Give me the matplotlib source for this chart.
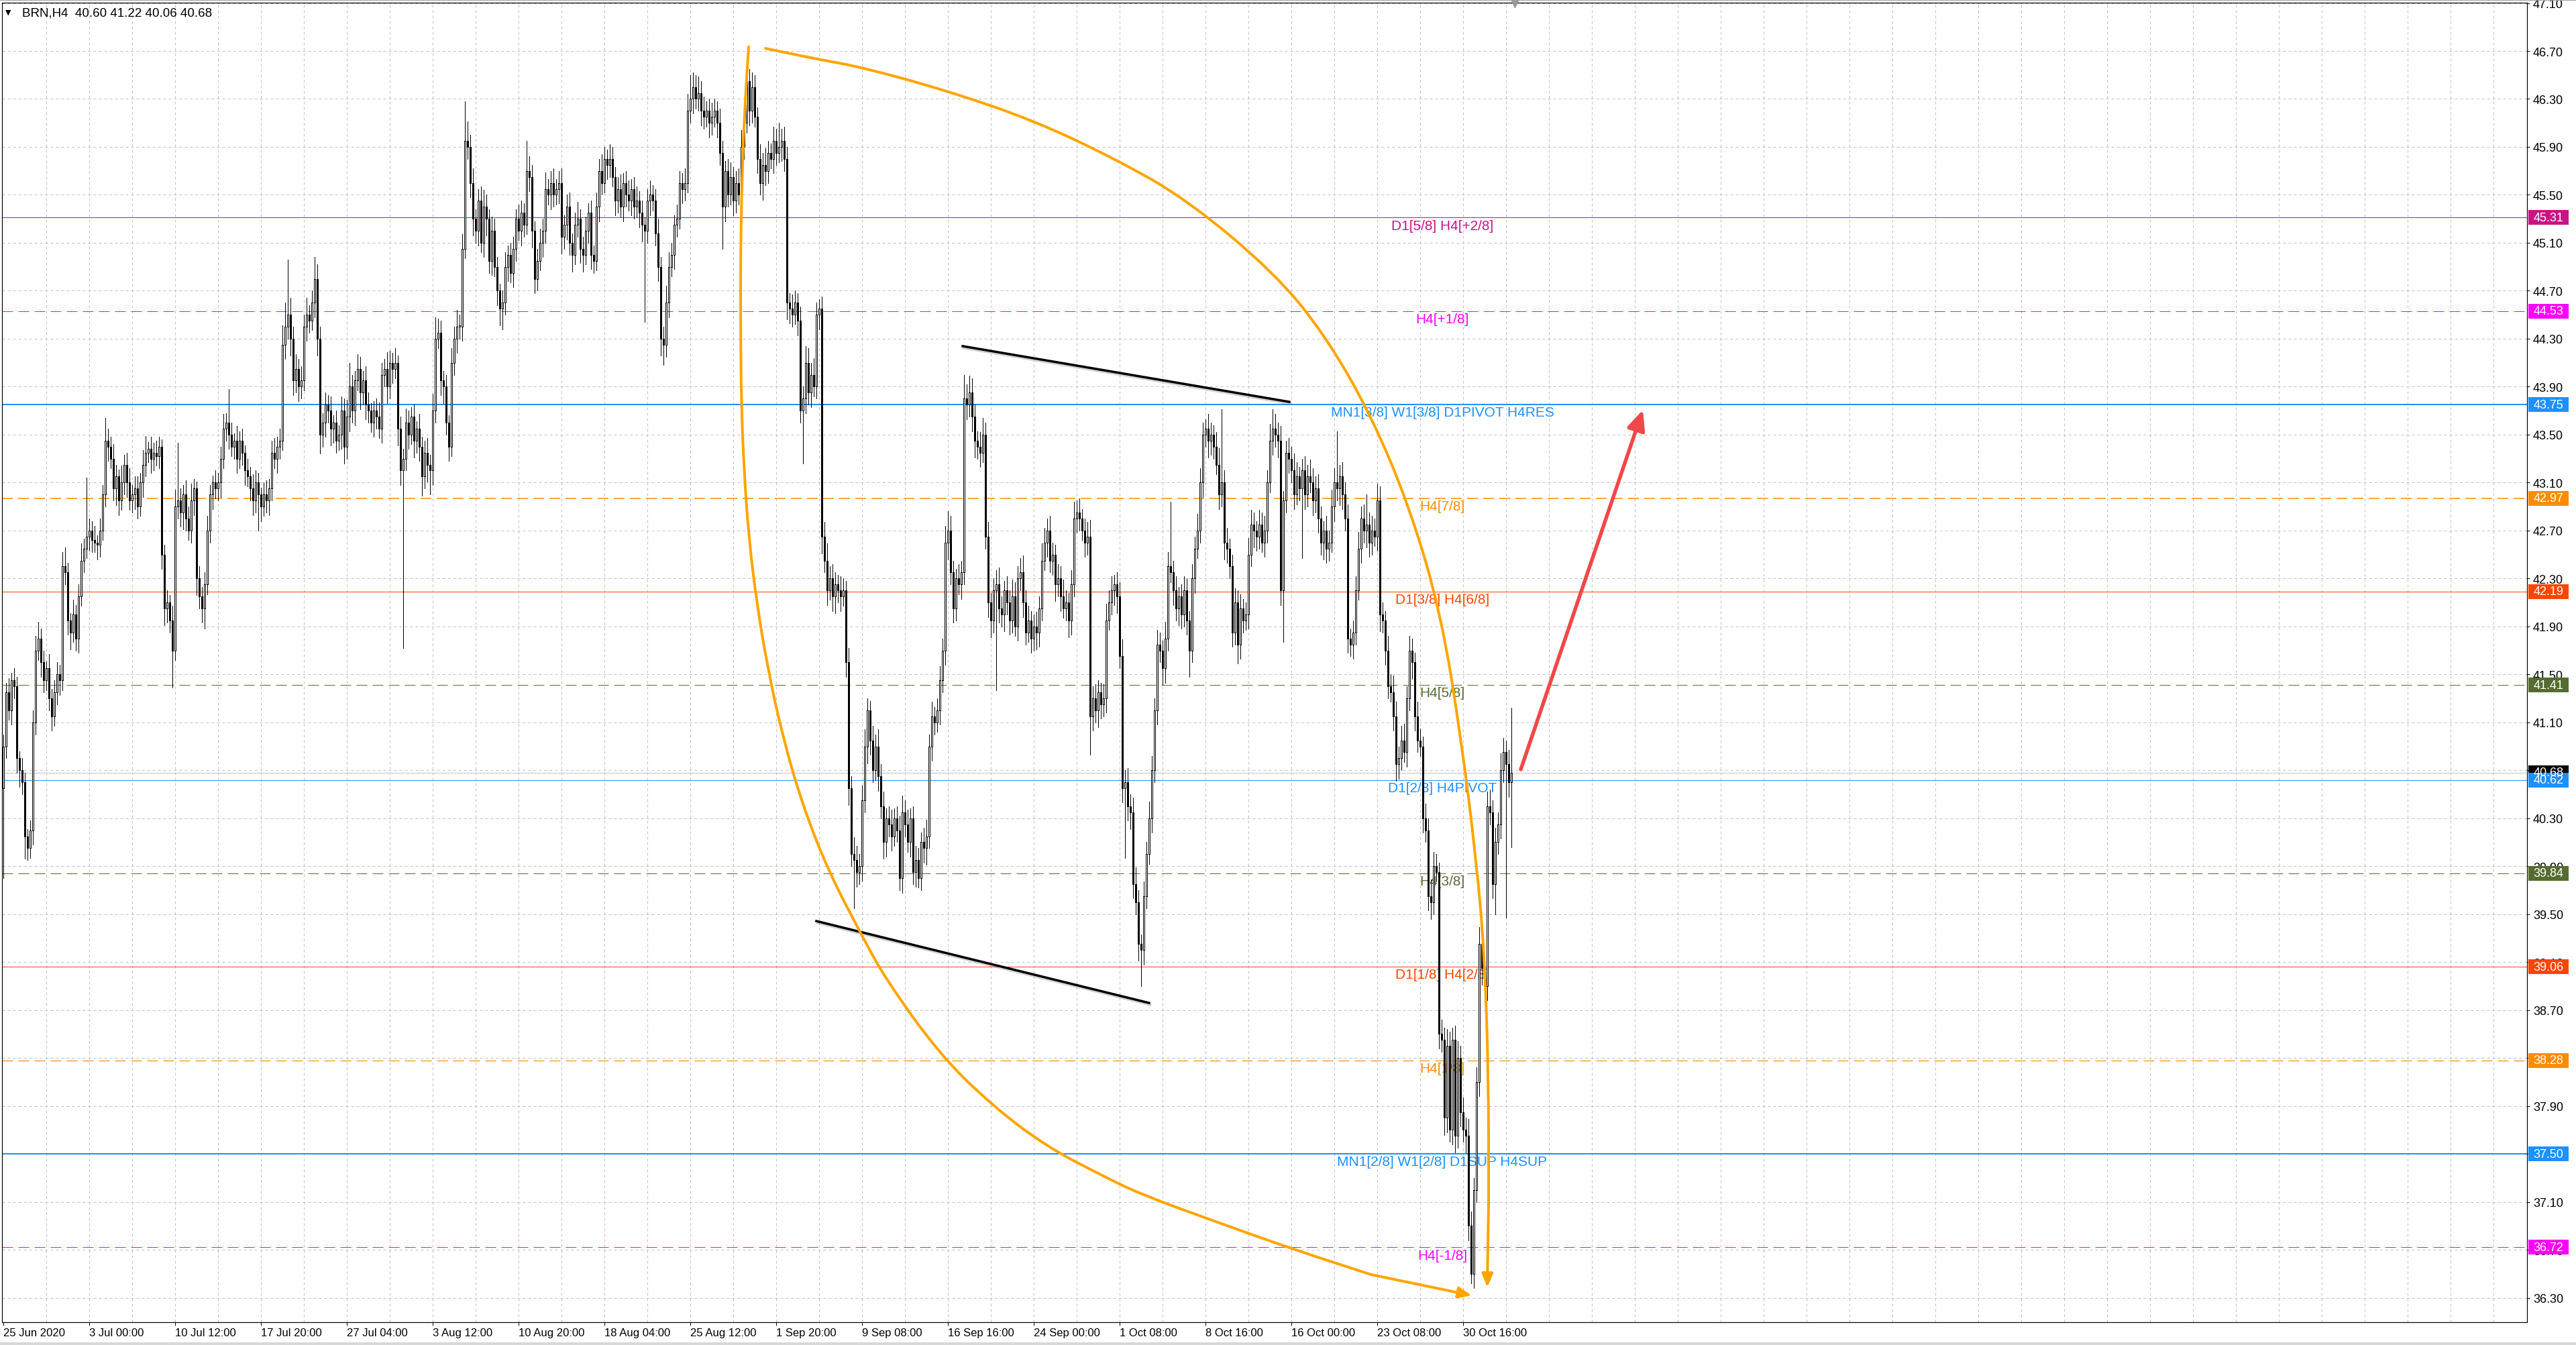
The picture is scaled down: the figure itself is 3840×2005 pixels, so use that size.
import numpy as np
import matplotlib
matplotlib.use('Agg')
import matplotlib.pyplot as plt
from matplotlib.patches import Rectangle, PathPatch
from matplotlib.path import Path
from matplotlib.transforms import blended_transform_factory
import matplotlib.patheffects as pe

plt.rcParams['font.family'] = ['Liberation Sans', 'DejaVu Sans']

# ---- data: BRN H4 closes ----
first_open = 40.55
closes = [
    40.90, 41.35, 41.20, 41.45, 41.40, 40.80, 40.70, 40.60, 40.15, 40.05,
    40.20, 41.10, 41.70, 41.80, 41.60, 41.45, 41.55, 41.30, 41.15, 41.35,
    41.50, 41.45, 42.40, 42.35, 41.95, 41.85, 42.00, 41.80, 42.15, 42.45,
    42.55, 42.65, 42.70, 42.62, 42.60, 42.58, 42.70, 43.00, 43.45, 43.40,
    43.30, 43.05, 43.15, 42.95, 43.10, 43.25, 43.10, 42.95, 43.00, 43.05,
    42.90, 43.10, 43.25, 43.35, 43.38, 43.30, 43.35, 43.32, 43.40, 42.50,
    42.05, 42.10, 41.95, 41.70, 42.90, 42.95, 42.85, 43.00, 42.80, 42.70,
    42.95, 43.05, 42.30, 42.15, 42.05, 42.25, 42.70, 43.00, 43.10, 43.05,
    43.10, 43.30, 43.55, 43.60, 43.50, 43.40, 43.45, 43.30, 43.45, 43.35,
    43.20, 43.15, 43.05, 42.95, 43.10, 43.00, 42.90, 43.00, 42.95, 43.05,
    43.35, 43.30, 43.40, 43.45, 44.25, 44.40, 44.50, 44.30, 43.95, 44.05,
    43.90, 43.95, 44.40, 44.50, 44.45, 44.60, 44.80, 44.30, 43.50, 43.60,
    43.75, 43.70, 43.55, 43.60, 43.45, 43.50, 43.70, 43.40, 43.65, 43.90,
    43.70, 43.95, 44.05, 43.85, 43.95, 43.75, 43.70, 43.60, 43.70, 43.65,
    43.55, 44.00, 44.05, 43.90, 44.10, 44.05, 44.10, 43.55, 43.20, 43.30,
    43.60, 43.50, 43.65, 43.45, 43.55, 43.40, 43.15, 43.35, 43.25, 43.20,
    43.70, 44.30, 44.35, 43.95, 43.90, 43.60, 43.40, 44.10, 44.30, 44.40,
    44.40, 45.05, 45.95, 45.90, 45.60, 45.30, 45.20, 45.45, 45.10, 45.40,
    45.30, 44.95, 45.20, 44.90, 44.70, 44.55, 44.60, 44.90, 45.00, 44.85,
    45.05, 45.30, 45.20, 45.35, 45.25, 45.70, 45.65, 45.20, 44.80, 44.95,
    45.10, 45.20, 45.55, 45.50, 45.60, 45.50, 45.55, 45.60, 45.15, 45.25,
    45.40, 45.10, 45.00, 45.25, 45.30, 45.05, 45.00, 45.20, 45.35, 45.00,
    44.95, 45.40, 45.70, 45.60, 45.80, 45.75, 45.80, 45.65, 45.45, 45.55,
    45.40, 45.60, 45.50, 45.45, 45.55, 45.40, 45.45, 45.35, 45.25, 45.20,
    45.45, 45.50, 45.45, 45.18, 44.90, 44.30, 44.25, 44.60, 44.90, 45.00,
    45.25, 45.30, 45.60, 45.55, 45.60, 46.20, 46.30, 46.40, 46.30, 46.35,
    46.20, 46.15, 46.20, 46.10, 46.15, 46.20, 46.10, 45.85, 45.40, 45.70,
    45.50, 45.65, 45.45, 45.60, 45.50, 45.90, 46.10, 46.45, 46.20, 46.40,
    46.15, 45.80, 45.60, 45.75, 45.70, 45.85, 45.80, 45.95, 45.85, 45.90,
    45.95, 45.80, 44.60, 44.55, 44.50, 44.60, 44.45, 43.70, 43.80, 44.10,
    43.85, 44.00, 43.90, 44.50, 44.55, 42.65, 42.45, 42.20, 42.30, 42.15,
    42.25, 42.20, 42.15, 42.20, 41.60, 40.55, 40.00, 39.95, 39.85, 39.90,
    40.45, 40.90, 41.20, 40.95, 40.70, 40.90, 40.65, 40.40, 40.10, 40.30,
    40.25, 40.15, 40.30, 40.20, 39.80, 40.35, 40.25, 40.10, 40.30, 39.85,
    39.95, 39.80, 40.10, 40.05, 40.15, 40.90, 41.15, 41.10, 41.20, 41.45,
    41.70, 42.60, 42.70, 42.35, 42.05, 42.30, 42.25, 42.35, 43.80, 43.75,
    43.85, 43.65, 43.45, 43.40, 43.35, 43.50, 42.65, 42.10, 41.95, 42.20,
    42.25, 42.05, 42.00, 42.20, 42.10, 41.95, 42.15, 41.90, 42.30, 42.35,
    42.10, 41.85, 41.95, 41.80, 41.90, 41.85, 42.05, 42.45, 42.60, 42.70,
    42.45, 42.50, 42.25, 42.30, 42.15, 42.05, 42.10, 41.95, 42.25, 42.80,
    42.85, 42.80, 42.70, 42.60, 42.65, 41.15, 41.30, 41.20, 41.35, 41.25,
    41.30, 41.95, 42.10, 42.20, 42.25, 42.15, 41.65, 40.55, 40.60, 40.40,
    40.35, 39.75, 39.60, 39.25, 39.20, 39.65, 40.00, 40.30, 40.70, 41.20,
    41.75, 41.70, 41.55, 41.80, 42.40, 42.35, 42.20, 42.05, 42.15, 42.00,
    42.20, 41.95, 41.70, 42.30, 42.55, 42.70, 43.10, 43.50, 43.55, 43.45,
    43.50, 43.40, 43.25, 43.00, 43.10, 42.60, 42.55, 42.40, 41.85, 42.10,
    41.75, 42.05, 41.95, 42.00, 42.50, 42.75, 42.70, 42.65, 42.75, 42.60,
    42.70, 43.10, 43.45, 43.55, 43.50, 43.45, 42.20, 42.95, 43.35, 43.30,
    43.20, 43.00, 43.15, 43.05, 43.20, 43.00, 43.15, 43.10, 42.95, 43.05,
    42.80, 42.60, 42.70, 42.55, 42.60, 42.90, 43.10, 43.05, 43.15, 43.00,
    42.80, 41.80, 41.75, 41.85, 42.20, 42.55, 42.80, 42.70, 42.75, 42.60,
    42.70, 42.65, 42.95, 42.00, 41.95, 41.70, 41.40, 41.35, 41.15, 40.75,
    40.80, 40.95, 40.85, 41.30, 41.70, 41.60, 41.15, 40.95, 40.90, 40.30,
    40.20, 39.65, 39.60, 39.90, 39.85, 38.50, 38.45, 37.80, 38.40, 37.70,
    38.45, 37.65, 38.30, 37.85, 37.70, 37.65, 36.90, 36.50, 37.20, 38.10,
    39.25, 39.05, 38.90, 40.40, 40.35, 39.75, 40.10, 40.25, 40.70, 40.85,
    40.75, 40.60, 40.68,
]
# upper / lower wick beyond the body, in cents
up_wick = [
    10, 8, 12, 6, 10, 8, 6, 10, 8, 6,
    8, 10, 12, 14, 8, 10, 6, 12, 8, 10,
    10, 8, 12, 16, 8, 6, 12, 8, 10, 14,
    8, 49, 10, 8, 12, 6, 10, 8, 19, 10,
    8, 12, 10, 6, 14, 8, 10, 12, 8, 10,
    10, 8, 12, 14, 6, 10, 8, 10, 8, 6,
    8, 10, 6, 12, 14, 48, 10, 8, 12, 10,
    14, 8, 6, 10, 8, 10, 12, 8, 6, 10,
    8, 10, 12, 8, 28, 10, 6, 12, 8, 10,
    6, 10, 8, 12, 10, 8, 6, 10, 12, 8,
    10, 12, 8, 10, 16, 20, 46, 14, 10, 12,
    8, 12, 10, 14, 8, 10, 18, 12, 10, 8,
    10, 8, 12, 6, 10, 8, 12, 10, 14, 20,
    10, 8, 12, 10, 8, 12, 10, 6, 8, 10,
    12, 10, 8, 14, 10, 8, 12, 6, 10, 8,
    12, 10, 8, 10, 6, 12, 8, 10, 12, 8,
    14, 18, 12, 10, 8, 10, 6, 12, 10, 14,
    10, 12, 33, 16, 10, 12, 8, 10, 12, 14,
    10, 8, 12, 10, 8, 6, 10, 12, 8, 10,
    10, 8, 12, 10, 8, 25, 12, 10, 8, 10,
    12, 10, 14, 8, 10, 12, 8, 10, 12, 8,
    10, 12, 8, 10, 14, 8, 10, 12, 8, 10,
    8, 12, 10, 14, 10, 8, 12, 10, 8, 10,
    12, 8, 10, 12, 8, 10, 12, 8, 10, 6,
    10, 12, 8, 10, 12, 8, 10, 14, 12, 10,
    8, 12, 10, 8, 12, 14, 20, 12, 10, 14,
    10, 12, 8, 10, 12, 10, 8, 12, 10, 8,
    10, 12, 8, 10, 12, 14, 12, 7, 10, 12,
    10, 8, 12, 10, 14, 10, 8, 12, 10, 20,
    10, 12, 10, 8, 12, 10, 8, 12, 10, 14,
    12, 10, 14, 10, 8, 10, 12, 14, 10, 12,
    10, 8, 12, 10, 8, 12, 10, 14, 12, 10,
    12, 14, 10, 8, 12, 10, 14, 10, 12, 8,
    10, 12, 8, 10, 12, 14, 10, 12, 8, 10,
    12, 10, 8, 12, 14, 10, 12, 8, 10, 12,
    10, 14, 16, 12, 10, 8, 12, 10, 20, 12,
    14, 12, 10, 8, 12, 14, 10, 12, 8, 10,
    12, 14, 10, 8, 12, 10, 14, 12, 10, 12,
    14, 10, 12, 8, 10, 12, 10, 14, 12, 10,
    12, 10, 8, 12, 10, 14, 10, 8, 12, 14,
    10, 12, 8, 10, 12, 14, 10, 12, 10, 8,
    12, 14, 10, 12, 8, 10, 12, 14, 10, 12,
    10, 12, 14, 10, 8, 12, 10, 14, 12, 10,
    12, 10, 8, 14, 12, 54, 10, 12, 8, 10,
    12, 10, 8, 12, 10, 14, 12, 10, 8, 12,
    10, 8, 12, 14, 61, 10, 12, 8, 10, 12,
    10, 12, 8, 10, 14, 12, 10, 8, 12, 10,
    12, 10, 14, 16, 12, 10, 12, 8, 10, 12,
    10, 14, 12, 8, 10, 12, 10, 14, 12, 10,
    12, 10, 8, 12, 10, 14, 12, 43, 10, 12,
    10, 12, 8, 10, 12, 14, 10, 12, 25, 10,
    12, 10, 14, 12, 10, 8, 12, 10, 14, 12,
    10, 12, 14, 10, 12, 10, 8, 12, 10, 8,
    12, 10, 14, 12, 10, 8, 12, 10, 14, 12,
    10, 12, 14, 10, 12, 10, 14, 12, 10, 12,
    14, 12, 10, 12, 14, 10, 12, 10, 14, 12,
    10, 12, 54,
]
dn_wick = [
    75, 10, 8, 12, 10, 12, 14, 10, 19, 10,
    8, 12, 10, 8, 12, 10, 8, 10, 12, 8,
    10, 12, 8, 10, 12, 14, 8, 10, 12, 8,
    10, 8, 12, 10, 8, 12, 10, 8, 10, 12,
    8, 10, 14, 12, 8, 10, 12, 8, 10, 12,
    10, 8, 12, 10, 8, 12, 10, 8, 10, 12,
    14, 12, 10, 31, 8, 10, 12, 14, 10, 8,
    10, 12, 14, 10, 12, 17, 8, 10, 12, 8,
    10, 12, 8, 10, 12, 8, 10, 12, 8, 10,
    12, 8, 10, 12, 10, 30, 12, 8, 10, 12,
    10, 8, 12, 10, 8, 12, 10, 14, 12, 10,
    12, 10, 8, 12, 10, 8, 12, 14, 16, 10,
    12, 10, 14, 12, 10, 8, 12, 14, 10, 12,
    10, 12, 8, 14, 10, 12, 10, 8, 12, 10,
    8, 12, 10, 14, 10, 12, 8, 14, 12, 148,
    10, 12, 8, 14, 10, 12, 16, 10, 14, 20,
    12, 10, 8, 12, 14, 10, 12, 8, 10, 12,
    10, 12, 8, 10, 12, 14, 10, 12, 8, 12,
    14, 10, 12, 8, 12, 14, 17, 10, 12, 8,
    12, 10, 8, 12, 10, 8, 12, 14, 12, 10,
    8, 12, 10, 8, 12, 10, 8, 12, 14, 10,
    12, 10, 14, 8, 10, 12, 14, 8, 10, 12,
    10, 8, 12, 10, 8, 12, 10, 8, 12, 10,
    8, 12, 10, 8, 12, 10, 8, 12, 14, 76,
    10, 12, 8, 10, 12, 14, 17, 10, 12, 8,
    12, 10, 8, 12, 10, 8, 10, 12, 8, 10,
    12, 10, 8, 12, 10, 8, 12, 10, 35, 12,
    10, 8, 12, 10, 8, 12, 10, 8, 12, 10,
    8, 12, 10, 14, 12, 10, 8, 12, 10, 8,
    12, 10, 14, 12, 10, 8, 12, 10, 44, 12,
    10, 12, 8, 10, 12, 14, 10, 12, 8, 12,
    14, 10, 12, 8, 12, 14, 10, 40, 12, 10,
    12, 10, 14, 12, 10, 8, 12, 10, 14, 12,
    10, 12, 8, 10, 10, 12, 10, 8, 12, 10,
    12, 8, 10, 12, 14, 10, 12, 10, 8, 12,
    10, 12, 14, 10, 12, 10, 8, 12, 10, 12,
    10, 12, 14, 10, 12, 8, 10, 12, 14, 10,
    83, 12, 10, 14, 10, 12, 10, 8, 12, 10,
    12, 10, 8, 12, 10, 14, 12, 10, 8, 12,
    10, 12, 14, 10, 12, 8, 10, 14, 12, 10,
    12, 10, 8, 12, 10, 32, 12, 10, 14, 12,
    10, 12, 8, 10, 12, 14, 10, 12, 58, 12,
    14, 12, 10, 14, 30, 12, 10, 8, 12, 10,
    12, 10, 14, 12, 10, 8, 12, 10, 14, 12,
    10, 12, 22, 10, 12, 8, 10, 12, 10, 14,
    12, 10, 8, 12, 10, 14, 12, 10, 12, 10,
    16, 12, 10, 8, 12, 10, 14, 12, 10, 8,
    12, 10, 8, 12, 10, 14, 12, 43, 10, 12,
    10, 12, 8, 10, 58, 12, 10, 8, 12, 10,
    12, 10, 14, 12, 10, 8, 12, 10, 14, 12,
    10, 12, 10, 12, 10, 8, 12, 10, 14, 12,
    10, 8, 12, 14, 10, 12, 10, 8, 12, 14,
    12, 10, 8, 12, 10, 14, 12, 10, 8, 12,
    10, 12, 14, 10, 8, 12, 10, 14, 12, 10,
    12, 14, 10, 12, 10, 14, 12, 8, 12, 10,
    12, 14, 10, 12, 10, 12, 25, 10, 12, 10,
    128, 12, 54,
]

date_labels = ['25 Jun 2020', '3 Jul 00:00', '10 Jul 12:00', '17 Jul 20:00',
               '27 Jul 04:00', '3 Aug 12:00', '10 Aug 20:00', '18 Aug 04:00',
               '25 Aug 12:00', '1 Sep 20:00', '9 Sep 08:00', '16 Sep 16:00',
               '24 Sep 00:00', '1 Oct 08:00', '8 Oct 16:00', '16 Oct 00:00',
               '23 Oct 08:00', '30 Oct 16:00']

# Murrey-math / pivot levels
levels = [45.31, 44.53, 43.75, 42.97, 42.19, 41.41, 40.62, 39.84, 39.06, 38.28, 37.50, 36.72]
level_names = ['D1[5/8] H4[+2/8]', 'H4[+1/8]', 'MN1[3/8] W1[3/8] D1PIVOT H4RES', 'H4[7/8]',
               'D1[3/8] H4[6/8]', 'H4[5/8]', 'D1[2/8] H4PIVOT', 'H4[3/8]',
               'D1[1/8] H4[2/8]', 'H4[1/8]', 'MN1[2/8] W1[2/8] D1SUP H4SUP', 'H4[-1/8]']
level_colors = ['#C71585', '#FF00FF', '#1E90FF', '#FF8C00', '#FF4500', '#556B2F',
                '#1E90FF', '#556B2F', '#FF4500', '#FF8C00', '#1E90FF', '#FF00FF']
level_dashed = [False, True, False, True, False, True, False, True, False, True, False, True]
level_px = [1, 1, 2, 1.5, 1, 1, 1, 1, 1, 1.2, 2, 1]
bid = 40.68

# drawn objects (bar index, price)
arc_a_bar = [277.75, 276.25, 275.25, 274.75, 274.75, 275.0, 276.0, 277.75, 280.75, 285.0,
             290.5, 297.75, 307.5, 320.5, 328.75, 348.75, 368.75, 388.75, 408.75, 423.75,
             452.5, 481.25, 509.75, 547.25]
arc_a_price = [46.736, 46.208, 45.620, 45.004, 44.445, 43.773, 43.214, 42.654, 42.095, 41.535,
               40.975, 40.416, 39.856, 39.297, 38.961, 38.334, 37.898, 37.562, 37.327, 37.164,
               36.929, 36.700, 36.493, 36.319]
arc_b_bar = [284.0, 303.75, 319.75, 351.5, 384.0, 414.75, 441.25, 473.75, 492.5, 509.75,
             524.25, 535.75, 543.25, 549.0, 552.0, 553.5, 553.5, 553.0]
arc_b_price = [46.722, 46.630, 46.566, 46.370, 46.121, 45.796, 45.458, 44.848, 44.333, 43.661,
               42.884, 42.005, 40.970, 39.935, 39.157, 38.121, 37.086, 36.387]
top_line = [(357.5, 44.238), (479.25, 43.773)]
bottom_line = [(303.0, 39.442), (427.0, 38.759)]
red_arrow = [(565.5, 40.707), (611.0, 43.706)]

# ---- build OHLC ----
c = np.array(closes)
o = np.r_[first_open, c[:-1]]
h = np.maximum(o, c) + np.array(up_wick) / 100
l = np.minimum(o, c) - np.array(dn_wick) / 100
x = np.arange(len(c))

W, H = 3840, 2006
PT = 0.72  # points per pixel at dpi 100
fig = plt.figure(figsize=(W / 100, H / 100), dpi=100)
ax = fig.add_axes([3 / W, 34 / H, 3764 / W, 1967 / H])
ymin, ymax = 36.096, 47.103
ax.set_xlim(-0.5, 940.5)
ax.set_ylim(ymin, ymax)
ax.set_autoscale_on(False)

# grid
price_ticks = [round(36.30 + 0.4 * k, 2) for k in range(28)]
for p in price_ticks:
    ax.axhline(p, color='#C0C0C0', lw=PT, ls=(0, (4, 4)), zorder=1)
for b in range(16, 941, 16):
    ax.axvline(b, color='#C0C0C0', lw=PT, ls=(0, (4, 4)), zorder=1)

# levels + labels
label_bar = 536.25
for lv, nm, col, dsh, wpx in zip(levels, level_names, level_colors, level_dashed, level_px):
    ls = (0, (16 / wpx, 8 / wpx)) if dsh else '-'
    ax.axhline(lv, color=col, lw=wpx * PT, ls=ls, zorder=2)
    ax.annotate(nm, xy=(label_bar, lv), xytext=(0, -1.5), textcoords='offset points',
                ha='center', va='top', color=col, fontsize=15, zorder=3)
ax.axhline(bid, color='#C0C0C0', lw=PT, zorder=2)

# candles
ax.vlines(x, l, h, color='black', lw=PT, zorder=4, antialiased=False)
bull = c >= o
body = np.maximum(np.abs(c - o), 0.012)
ax.bar(x[bull], body[bull], bottom=o[bull], width=0.7, facecolor='white',
       edgecolor='black', linewidth=PT, zorder=5, antialiased=False)
ax.bar(x[~bull], body[~bull], bottom=c[~bull], width=0.7, facecolor='black',
       edgecolor='black', linewidth=PT, zorder=5, antialiased=False)

# trend lines
shadow = [pe.SimpleLineShadow(offset=(1, -2), shadow_color='gray', alpha=0.35), pe.Normal()]
for seg in (top_line, bottom_line):
    ax.plot([seg[0][0], seg[1][0]], [seg[0][1], seg[1][1]], color='black', lw=3.5 * PT,
            zorder=6, path_effects=shadow)


def smooth_path(xs, ys):
    # quadratic pieces through the midpoints, read points act as control points
    pts = list(zip(xs, ys))
    verts = [pts[0], ((pts[0][0] + pts[1][0]) / 2, (pts[0][1] + pts[1][1]) / 2)]
    codes = [Path.MOVETO, Path.LINETO]
    for i in range(1, len(pts) - 1):
        mid = ((pts[i][0] + pts[i + 1][0]) / 2, (pts[i][1] + pts[i + 1][1]) / 2)
        verts += [pts[i], mid]
        codes += [Path.CURVE3, Path.CURVE3]
    verts.append(pts[-1])
    codes.append(Path.LINETO)
    return Path(verts, codes)


# orange curved arrows
orange = '#FFA500'
for xs, ys in ((arc_a_bar, arc_a_price), (arc_b_bar, arc_b_price)):
    ax.add_patch(PathPatch(smooth_path(xs[:-1], ys[:-1]), fill=False, edgecolor=orange,
                           lw=4 * PT, zorder=6, joinstyle='round', capstyle='round'))
    ax.annotate('', xy=(xs[-1], ys[-1]), xytext=(xs[-2], ys[-2]),
                arrowprops=dict(arrowstyle='-|>,head_length=0.6,head_width=0.25', color=orange,
                                lw=4 * PT, mutation_scale=20, shrinkA=0, shrinkB=0), zorder=6)

# red arrow
ax.annotate('', xy=red_arrow[1], xytext=red_arrow[0],
            arrowprops=dict(arrowstyle='-|>,head_length=1.0,head_width=0.45', color='#F04848',
                            lw=5.5 * PT, mutation_scale=18, shrinkA=0, shrinkB=0), zorder=7)

# axes styling
for s in ax.spines.values():
    s.set_color('black')
    s.set_linewidth(PT * 1.2)
ax.yaxis.tick_right()
ax.set_yticks(price_ticks)
ax.set_yticklabels([f'{p:.2f}' for p in price_ticks])
ax.tick_params(axis='y', direction='out', length=4 * PT, width=PT, pad=5 * PT, labelsize=13)
tick_idx = [32 * k for k in range(len(date_labels))]
ax.set_xticks(tick_idx)
ax.set_xticklabels(date_labels, ha='left')
ax.tick_params(axis='x', direction='out', length=5 * PT, width=PT, pad=3 * PT, labelsize=12)

# price boxes on the right scale
trans_box = blended_transform_factory(fig.transFigure, ax.transData)
box_h = 22 * (ymax - ymin) / 1967
box_levels = [bid] + levels
box_colors = ['black'] + level_colors
for lv, col in zip(box_levels, box_colors):
    ax.add_patch(Rectangle((3769 / W, lv - box_h / 2), 60 / W, box_h, transform=trans_box,
                           facecolor=col, edgecolor='none', clip_on=False, zorder=8))
    ax.text(3799 / W, lv, f'{lv:.2f}', transform=trans_box, ha='center', va='center',
            color='white', fontsize=13, zorder=9, clip_on=False)
ax.set_xlim(-0.5, 940.5)
ax.set_ylim(ymin, ymax)

# chart-shift marker and header
ax.plot([563.25], [1.0], marker='v', markersize=10, color='#9A9A9A', clip_on=False,
        transform=blended_transform_factory(ax.transData, ax.transAxes), zorder=9)
fig.text(8 / W, 1 - 19 / H, '\u25BC', fontsize=8, va='center', ha='left', family='DejaVu Sans')
fig.text(33 / W, 1 - 20 / H, 'BRN,H4  40.60 41.22 40.06 40.68', fontsize=13.5,
         va='center', ha='left')
fig.patches.append(Rectangle((0, 0), 1, 4 / H, transform=fig.transFigure,
                             facecolor='#D8D8D8', edgecolor='none'))
fig.patches.append(Rectangle((0, 1 - 2 / H), 1, 2 / H, transform=fig.transFigure,
                             facecolor='#A0A0A0', edgecolor='none'))

fig.savefig('out.png', dpi=100, facecolor='white')
